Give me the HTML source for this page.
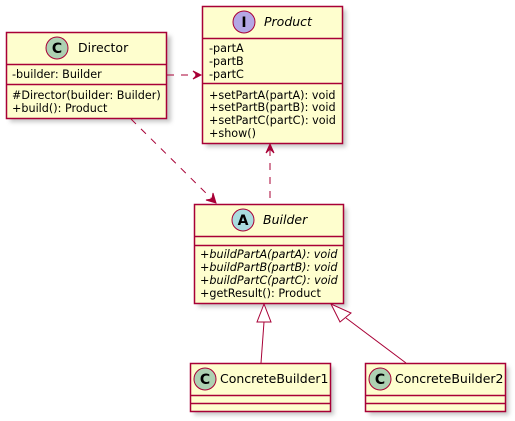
<!DOCTYPE html>
<html><head><meta charset="utf-8"><style>
html,body{margin:0;padding:0;background:#fff;}
svg{display:block;font-family:"DejaVu Sans","Liberation Sans",sans-serif;}
</style></head><body>
<svg width="515" height="421" viewBox="0 0 515 421" xmlns="http://www.w3.org/2000/svg">
<defs>
<filter id="sh" x="-10%" y="-10%" width="130%" height="130%"><feGaussianBlur stdDeviation="2"/></filter>
</defs>
<g fill="#a0a0a0" opacity="0.6" filter="url(#sh)">
<rect x="10" y="36" width="161" height="86"/>
<rect x="206" y="10" width="140" height="137"/>
<rect x="198" y="208" width="149" height="99"/>
<rect x="194" y="367" width="140" height="48"/>
<rect x="369" y="367" width="140" height="48"/>
</g>
<g fill="#FEFECE" stroke="#A80036" stroke-width="1.5">
<rect x="6.5" y="32.5" width="160" height="86"/>
<rect x="202.5" y="6.5" width="140" height="137"/>
<rect x="194.5" y="204.5" width="149" height="99"/>
<rect x="190.5" y="363.5" width="140" height="48"/>
<rect x="365.5" y="363.5" width="140" height="48"/>
</g>
<g stroke="#A80036" stroke-width="1.5">
<line x1="6.5" y1="64.5" x2="166.5" y2="64.5"/><line x1="6.5" y1="84.5" x2="166.5" y2="84.5"/>
<line x1="202.5" y1="38.5" x2="342.5" y2="38.5"/><line x1="202.5" y1="83.5" x2="342.5" y2="83.5"/>
<line x1="194.5" y1="236.5" x2="343.5" y2="236.5"/><line x1="194.5" y1="245.5" x2="343.5" y2="245.5"/>
<line x1="190.5" y1="395.5" x2="330.5" y2="395.5"/><line x1="190.5" y1="403.5" x2="330.5" y2="403.5"/>
<line x1="365.5" y1="395.5" x2="505.5" y2="395.5"/><line x1="365.5" y1="403.5" x2="505.5" y2="403.5"/>
</g>
<g stroke="#A80036" stroke-width="1">
<circle cx="57" cy="48" r="11" fill="#ADD1B2"/>
<circle cx="244" cy="22" r="11" fill="#B4A7E5"/>
<circle cx="243" cy="220" r="11" fill="#A9DCDF"/>
<circle cx="205" cy="379" r="11" fill="#ADD1B2"/>
<circle cx="380" cy="379" r="11" fill="#ADD1B2"/>
</g>
<g font-weight="bold" font-size="14" text-anchor="middle" fill="#000">
<text x="57" y="53">C</text><text x="244" y="27">I</text><text x="243" y="225">A</text>
<text x="205" y="384">C</text><text x="380" y="384">C</text>
</g>
<g font-size="12.5" fill="#000">
<text x="78" y="52">Director</text>
<text x="264" y="26" font-style="italic">Product</text>
<text x="263" y="224" font-style="italic">Builder</text>
<text x="220" y="383">ConcreteBuilder1</text>
<text x="395" y="383">ConcreteBuilder2</text>
</g>
<g font-size="11.2" fill="#000">
<text x="12" y="78">-builder: Builder</text>
<text x="12" y="99">#Director(builder: Builder)</text>
<text x="12" y="112">+build(): Product</text>
<text x="209" y="52">-partA</text><text x="209" y="65">-partB</text><text x="209" y="78">-partC</text>
<text x="209" y="99">+setPartA(partA): void</text>
<text x="209" y="111">+setPartB(partB): void</text>
<text x="209" y="124">+setPartC(partC): void</text>
<text x="209" y="137">+show()</text>
<g font-style="italic">
<text x="200" y="258">+buildPartA(partA): void</text>
<text x="200" y="271">+buildPartB(partB): void</text>
<text x="200" y="284">+buildPartC(partC): void</text>
</g>
<text x="200" y="297">+getResult(): Product</text>
</g>
<g stroke="#A80036" stroke-width="1" fill="none">
<line x1="167" y1="75" x2="201" y2="75" stroke-dasharray="7,7"/>
<path d="M193,71 L201,75 L193,79 L197,75 Z" fill="#A80036"/>
<line x1="131" y1="119" x2="216" y2="203" stroke-dasharray="7,7"/>
<path d="M206,200 L216,203 L213,193 L212,199 Z" fill="#A80036"/>
<line x1="270" y1="198" x2="270" y2="145" stroke-dasharray="7,7"/>
<path d="M266,153 L270,144 L274,153 L270,149 Z" fill="#A80036"/>
<line x1="261" y1="363" x2="264" y2="322"/>
<path d="M264,304 L257,322 L271,322 Z" fill="#fff"/>
<line x1="406" y1="363" x2="346" y2="318"/>
<path d="M331,304 L340,322 L351,313 Z" fill="#fff"/>
</g>
</svg>
</body></html>
